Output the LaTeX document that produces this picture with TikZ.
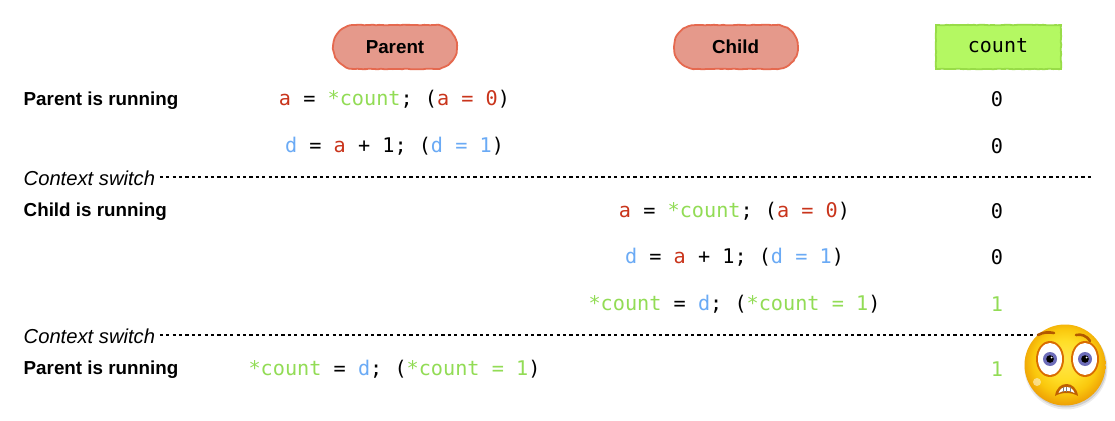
\documentclass[tikz,border=0pt]{standalone}
\usepackage{fontspec}
\setmainfont{Liberation Sans}
\setmonofont{DejaVu Sans Mono}
\usetikzlibrary{decorations.pathmorphing,shadings}
\definecolor{cR}{HTML}{C9341B}
\definecolor{cG}{HTML}{92DC55}
\definecolor{cB}{HTML}{6AAAF5}
\definecolor{pillF}{HTML}{E5998B}
\definecolor{pillD}{HTML}{E5694F}
\definecolor{boxF}{HTML}{B4F862}
\definecolor{boxD}{HTML}{98DC48}
\newcommand{\cred}[1]{\textcolor{cR}{#1}}
\newcommand{\cgrn}[1]{\textcolor{cG}{#1}}
\newcommand{\cblu}[1]{\textcolor{cB}{#1}}
\pgfdeclareradialshading{emojiface}{\pgfpoint{0bp}{4bp}}{%
  rgb(0bp)=(1,0.90,0.30);
  rgb(12bp)=(1,0.87,0.15);
  rgb(20bp)=(0.98,0.78,0.05);
  rgb(27bp)=(0.93,0.62,0.02);
  rgb(32bp)=(0.85,0.50,0.02);
  rgb(50bp)=(0.85,0.50,0.02)}
\tikzset{
  x=1pt,y=-1pt,
  sketchy/.style={decorate,decoration={random steps,segment length=3pt,amplitude=0.35pt}},
  pilloutline/.style={fill=pillF,draw=pillD,line width=1.8pt,sketchy},
  boxoutline/.style={fill=boxF,draw=boxD,line width=1.8pt,sketchy},
  pilltext/.style={inner sep=0pt,font=\bfseries\fontsize{18.8}{19}\selectfont},
  counttext/.style={inner sep=0pt,font=\ttfamily\fontsize{20}{20}\selectfont},
  rowlabel/.style={anchor=west,inner sep=0pt,font=\bfseries\fontsize{18.8}{19}\selectfont},
  switchlabel/.style={anchor=west,inner sep=0pt,font=\itshape\fontsize{20.2}{20}\selectfont},
  code/.style={inner sep=0pt,font=\ttfamily\fontsize{20.2}{20.2}\selectfont},
  sepline/.style={line width=1.1pt,dash pattern=on 3.2pt off 3.2pt},
}
\begin{document}
\begin{tikzpicture}
\useasboundingbox[fill=white] (0,0) rectangle (1115,420);
\path[pilloutline] (355,25) -- (435,25) arc (-90:90:22) -- (355,69) arc (90:270:22) -- cycle;
\node[pilltext] (parent) at (395,47) {Parent};
\path[pilloutline] (696,25) -- (776,25) arc (-90:90:22) -- (696,69) arc (90:270:22) -- cycle;
\node[pilltext] (child) at (735.5,47) {Child};
\path[boxoutline] (936,25) rectangle (1061,69);
\node[counttext] (count) at (998,45.5) {count};

\node[rowlabel] (r1) at (23.5,100.5) {Parent is running};
\node[rowlabel] (r2) at (23.5,211.5) {Child is running};
\node[rowlabel] (r3) at (23.5,369.5) {Parent is running};
\node[switchlabel] (s1) at (23.5,178) {Context switch};
\node[switchlabel] (s2) at (23.5,336) {Context switch};

\coordinate (e1) at (1092,177);
\coordinate (e2) at (1042,335);
\draw[sepline] (s1.east |- e1) ++(4.5,0) -- (e1);
\draw[sepline] (s2.east |- e2) ++(4.5,0) -- (e2);

\node[code] (c1) at (394.5,99.5) {\cred{a} = \cgrn{*count}; (\cred{a = 0})};
\node[code] (c2) at (394.5,146.5) {\cblu{d} = \cred{a} + 1; (\cblu{d = 1})};
\node[code] (c3) at (734.5,211.5) {\cred{a} = \cgrn{*count}; (\cred{a = 0})};
\node[code] (c4) at (734.5,257.5) {\cblu{d} = \cred{a} + 1; (\cblu{d = 1})};
\node[code] (c5) at (734.5,304.5) {\cgrn{*count} = \cblu{d}; (\cgrn{*count = 1})};
\node[code] (c6) at (394.5,369.5) {\cgrn{*count} = \cblu{d}; (\cgrn{*count = 1})};

\node[code] (n1) at (997,99) {0};
\node[code] (n2) at (997,146) {0};
\node[code] (n3) at (997,211) {0};
\node[code] (n4) at (997,257) {0};
\node[code] (n5) at (997,304) {\cgrn{1}};
\node[code] (n6) at (997,369) {\cgrn{1}};

% frightened face
\fill[black,opacity=.08] (1066,368) circle (41.5);
\fill[black,opacity=.12] (1066,367) circle (40.5);
\shade[shading=emojiface] (1065,365) circle (40.5);
\fill[white,opacity=.5] (1037,382) circle (4);
\foreach \cx/\ry in {1050/359,1085/359}{
  \fill[orange!85!black] (\cx,\ry) ellipse (14 and 18);
  \fill[white] (\cx,\ry) ellipse (12 and 16);
  \fill[blue!35!gray!85] (\cx,\ry) circle (7);
  \fill[black] (\cx,\ry) circle (3.8);
  \fill[white] (\cx+1.5,\ry-1.5) circle (1);
}
\draw[line width=2.6pt,orange!70!black,line cap=round] (1038,335) .. controls (1043,332) and (1049,332) .. (1054,333);
\draw[line width=2.6pt,orange!70!black,line cap=round] (1076,335) .. controls (1081,334) and (1086,335) .. (1090,341);
\fill[orange!75!black] (1055,396) .. controls (1057,380) and (1076,380) .. (1078,396) .. controls (1072,392) and (1061,392) .. (1055,396) -- cycle;
\fill[white] (1058.5,393) .. controls (1061,385) and (1072,385) .. (1074.5,393) .. controls (1070,390) and (1063,390) .. (1058.5,393) -- cycle;
\foreach \tx in {1063,1066.5,1070}{\draw[gray,line width=.5pt] (\tx,387) -- (\tx,391.5);}
\end{tikzpicture}
\end{document}
